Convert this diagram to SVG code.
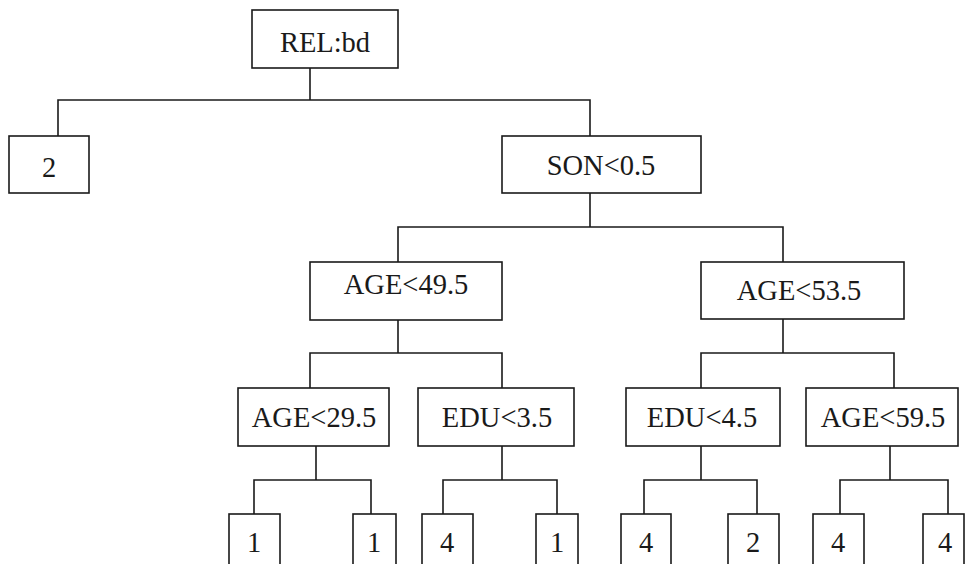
<svg xmlns="http://www.w3.org/2000/svg" width="965" height="564" viewBox="0 0 965 564">
<style>
rect.n{fill:#fff;stroke:#1a1a1a;stroke-width:1.6}
text{font-family:"Liberation Serif","DejaVu Serif",serif;font-size:28.5px;fill:#1a1a1a;text-anchor:middle}
#connectors path{fill:none;stroke:#1a1a1a;stroke-width:1.6}
</style>
<rect width="965" height="564" fill="#fff"/>
<g id="connectors">
<path d="M310 68V100M58 136V100H590V136"/>
<path d="M590 193V227M398 262V227H783V262"/>
<path d="M398 320V353M310 388V353H502V388"/>
<path d="M783 319V353M701 388V353H894V388"/>
<path d="M316 446V480M254 514V480H371V514"/>
<path d="M502 446V480M443 514V480H557V514"/>
<path d="M701 446V480M644 514V480H757V514"/>
<path d="M890 446V480M840 514V480H948V514"/>
</g>
<g id="root"><rect class="n" x="252" y="10" width="146" height="58"/><text x="325" y="52">REL:bd</text></g>
<g id="leaf-2"><rect class="n" x="9" y="136" width="80" height="57"/><text x="49" y="177">2</text></g>
<g id="son"><rect class="n" x="502" y="136" width="199" height="57"/><text x="601" y="175">SON&lt;0.5</text></g>
<g id="age49"><rect class="n" x="310" y="262" width="192" height="58"/><text x="406" y="294">AGE&lt;49.5</text></g>
<g id="age53"><rect class="n" x="701" y="262" width="203" height="57"/><text x="799" y="300">AGE&lt;53.5</text></g>
<g id="age29"><rect class="n" x="238" y="388" width="151" height="58"/><text x="314" y="427">AGE&lt;29.5</text></g>
<g id="edu3"><rect class="n" x="418" y="388" width="156" height="58"/><text x="497" y="427">EDU&lt;3.5</text></g>
<g id="edu4"><rect class="n" x="626" y="388" width="154" height="58"/><text x="702" y="427">EDU&lt;4.5</text></g>
<g id="age59"><rect class="n" x="806" y="388" width="152" height="58"/><text x="883" y="427">AGE&lt;59.5</text></g>
<g id="leaf-a"><rect class="n" x="229" y="514" width="51" height="54"/><text x="254" y="552">1</text></g>
<g id="leaf-b"><rect class="n" x="353" y="514" width="43" height="54"/><text x="374" y="552">1</text></g>
<g id="leaf-c"><rect class="n" x="422" y="514" width="51" height="54"/><text x="447" y="552">4</text></g>
<g id="leaf-d"><rect class="n" x="536" y="514" width="42" height="54"/><text x="557" y="552">1</text></g>
<g id="leaf-e"><rect class="n" x="621" y="514" width="50" height="54"/><text x="646" y="552">4</text></g>
<g id="leaf-f"><rect class="n" x="728" y="514" width="51" height="54"/><text x="753" y="552">2</text></g>
<g id="leaf-g"><rect class="n" x="813" y="514" width="51" height="54"/><text x="838" y="552">4</text></g>
<g id="leaf-h"><rect class="n" x="923" y="514" width="41" height="54"/><text x="945" y="552">4</text></g>
</svg>
